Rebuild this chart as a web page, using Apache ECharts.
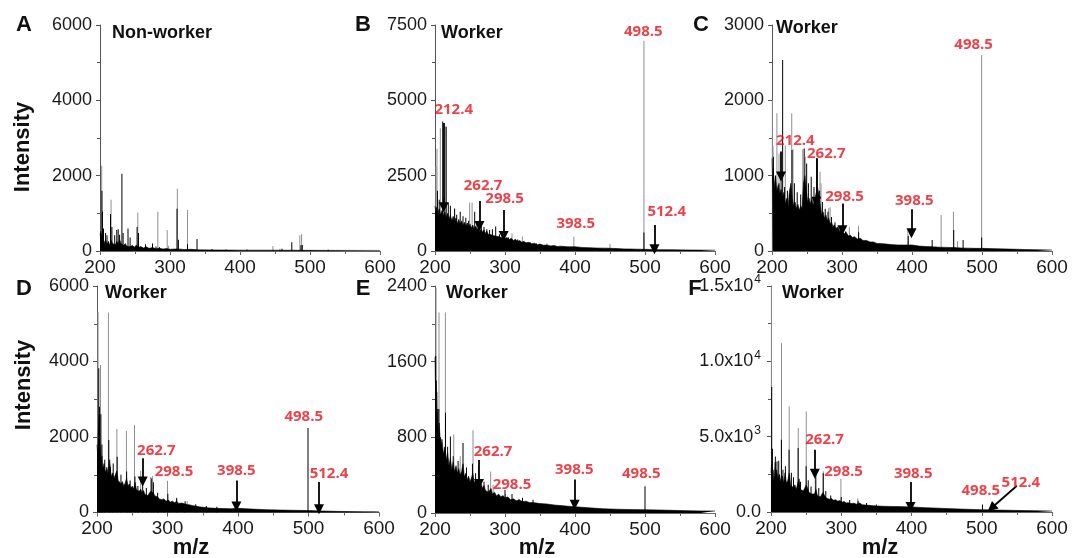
<!DOCTYPE html>
<html><head><meta charset="utf-8">
<script src="https://cdn.jsdelivr.net/npm/echarts@6/dist/echarts.min.js"></script>
<style>html,body{margin:0;padding:0;background:#fff}#c{width:1072px;height:558px}</style>
</head><body><div id="c"></div>
<script>
// ---------- DATA ----------
const xTickLabels = [200, 300, 400, 500, 600];
const panelLetters = ['A', 'B', 'C', 'D', 'E', 'F'];
const panelTitles = ['Non-worker', 'Worker', 'Worker', 'Worker', 'Worker', 'Worker'];
const yMaxes = [6000, 7500, 3000, 6000, 2400, 15000];
const ySteps = [2000, 2500, 1000, 2000, 800, 5000];

// Panel A
const envA = [[200,420],[201,520],[202,380],[203,460],[204,300],[206,220],[208,300],[210,180],[212,260],[214,150],[216,280],[218,200],[220,240],[222,160],[224,260],[226,180],[228,300],[230,200],[232,240],[234,140],[236,200],[238,130],[240,180],[243,110],[246,150],[249,100],[252,160],[255,90],[258,120],[262,80],[266,110],[270,70],[275,90],[280,60],[285,75],[290,50],[295,65],[300,45],[310,55],[320,40],[330,45],[340,30],[360,28],[380,25],[400,22],[430,22],[460,20],[500,18],[540,16],[600,15]];
const blackA = [[202.8,1600],[203.5,1050],[205,600],[208,480],[210,420],[215,980],[217,640],[221,420],[224,560],[226,580],[228,430],[231.3,2050],[233,480],[240,600],[243,360],[253,640],[255,480],[265,180],[275,200],[280,120],[285,100],[310,1120],[312,300],[325,180],[338.6,320],[360,50],[380,40],[410,40],[460,60],[474,230],[487,150],[489,160],[526,30]];
const grayA = [[202.4,2260],[215.8,1360],[254,1020],[282.6,1040],[296,560],[298,140],[310.5,1650],[325,1090],[447,130],[457,60],[485.5,420],[488,450]];
const arrowsA = [];
const labelsA = [];

// Panel B
const envB = [[200,1500],[201,1300],[202,1450],[204,1250],[206,1400],[208,1200],[210,1350],[212,1150],[214,1300],[216,1100],[218,1250],[220,1050],[222,1200],[224,1000],[226,1150],[228,950],[230,1100],[232,900],[234,1050],[236,880],[238,1000],[240,850],[242,950],[244,820],[246,930],[248,800],[250,900],[252,760],[254,860],[256,720],[258,820],[260,700],[262,780],[264,650],[266,740],[268,620],[270,700],[272,580],[274,660],[276,560],[278,620],[280,540],[282,600],[284,510],[286,570],[288,490],[290,540],[292,470],[294,510],[296,440],[298,480],[300,420],[303,450],[306,380],[309,420],[312,350],[315,390],[318,320],[321,350],[324,290],[327,320],[330,270],[334,290],[338,240],[342,260],[346,210],[350,230],[355,190],[360,200],[365,170],[370,180],[375,150],[380,160],[390,140],[400,140],[410,120],[420,110],[430,100],[440,95],[450,90],[460,80],[470,70],[480,65],[490,60],[500,55],[510,50],[520,45],[540,40],[560,35],[580,30],[600,28]];
const blackB = [[203.5,2000],[206,1700],[211,4300],[213,1800],[216,4120],[219,1600],[222,1500],[228,1400],[231,1200],[236,1300],[240,1150],[244,1100],[248,1000],[256.7,1300],[260,900],[266,850],[270,800],[274,720],[278,700],[282,720],[286.7,810],[292,560],[305,450],[318,380],[336,280],[345,250],[498.5,610],[513,90]];
const grayB = [[201.4,2800],[202.8,3390],[207.6,4070],[214.5,4150],[228,1415],[249.5,1600],[253,1600],[262,1000],[310,590],[324.8,480],[360,250],[398.4,475],[450,232],[498.5,6980]];
const arrowsB = [[212.4,4250,212.4,1450],[263.5,1660,263.5,830],[298,1360,298,500],[513.5,860,513.5,60]];
const labelsB = [['212.4',226.7,4700],['262.7',268.6,2160],['298.5',299.5,1720],['398.5',401,890],['498.5',497.6,7280],['512.4',531,1290]];

// Panel C
const envC = [[200,1230],[201,900],[202,1100],[203,850],[205,1000],[207,800],[209,880],[211,760],[213,820],[215,700],[217,780],[219,620],[221,700],[223,600],[225,800],[227,900],[229,700],[231,600],[233,650],[235,560],[237,620],[239,540],[241,600],[243,560],[245,900],[247,1000],[249,800],[251,650],[253,700],[255,620],[257,700],[259,600],[261,680],[263,700],[265,850],[267,750],[269,600],[271,480],[273,520],[275,430],[277,480],[279,400],[281,440],[283,360],[285,390],[287,320],[289,350],[291,300],[294,320],[297,260],[300,280],[303,230],[306,250],[309,200],[312,210],[315,180],[318,190],[322,160],[326,170],[330,140],[335,140],[340,120],[345,120],[350,100],[360,95],[370,85],[380,80],[390,80],[400,80],[410,65],[420,60],[430,55],[440,50],[450,48],[460,45],[470,40],[480,38],[490,35],[500,35],[520,30],[540,25],[560,20],[580,16],[600,13]];
const blackC = [[202,1250],[205,1000],[210,900],[213,1000],[215.2,2535],[218,850],[222,800],[228.6,1340],[232,900],[236,780],[241,750],[246,1360],[249.5,1160],[252,900],[256,985],[260,850],[264,1230],[268,800],[272,650],[276,560],[280,520],[285,450],[290,380],[299,300],[305,260],[323.8,250],[394.6,200],[428.8,146],[459.6,280],[473,146],[499.5,180]];
const grayC = [[200.5,2005],[201.5,1390],[207,1830],[210,1290],[219,1400],[228.2,1830],[230,1350],[244,1350],[247.5,1250],[268.6,1053],[270,900],[281,566],[283,580],[310.5,320],[323.5,336],[394.2,280],[441.6,478],[459.2,522],[465,130],[499.5,2602]];
const arrowsC = [[212.9,1320,212.9,990],[263.3,1230,263.3,655],[300.5,630,300.5,277],[399.3,553,399.3,235]];
const labelsC = [['212.4',233.3,1460],['262.7',277.6,1296],['298.5',303.7,721],['398.5',403.3,663],['498.5',488,2743]];

// Panel D
const envD = [[200,1800],[201,1500],[202,2200],[203,2600],[204,1800],[205,1600],[206,1300],[207,1500],[208,1150],[210,1300],[212,1050],[214,1200],[216,1000],[218,1400],[220,950],[222,1050],[224,900],[226,1000],[228,1100],[230,850],[232,900],[234,760],[236,820],[238,700],[240,780],[242,900],[244,700],[246,760],[248,640],[250,700],[252,620],[254,800],[256,600],[258,650],[260,560],[262,620],[264,520],[266,580],[268,480],[270,520],[272,450],[274,500],[276,560],[278,600],[280,520],[282,440],[284,400],[286,420],[288,360],[290,390],[292,340],[295,360],[298,300],[301,330],[304,280],[307,300],[310,260],[313,300],[316,240],[320,250],[324,230],[328,210],[332,200],[336,180],[340,170],[345,150],[350,140],[360,120],[370,110],[380,105],[390,100],[400,110],[420,90],[440,75],[460,65],[480,58],[500,52],[520,40],[540,30],[560,24],[580,20],[600,18]];
const blackD = [[202.5,3820],[203.5,2800],[205.5,2600],[207,1800],[211,1400],[216.7,1920],[219,1200],[223,1300],[228.6,1480],[234,1000],[242,1085],[247,850],[253.8,955],[258,700],[264.8,820],[270,650],[277.6,900],[280,800],[286,520],[300.5,500],[313,380],[325,300],[340,220],[355,170],[370,150],[499.3,2240],[514,100]];
const grayD = [[201.5,5320],[205,3910],[216.2,5300],[228.2,2210],[241.7,2160],[253.2,2320],[262,1100],[276,940],[278.5,970],[300,840],[313,400],[328,300]];
const arrowsD = [[264.8,1440,264.8,820],[397.7,850,397.7,160],[514.9,805,514.9,88]];
const labelsD = [['262.7',284.2,1640],['298.5',309.2,1090],['398.5',397.7,1106],['498.5',493.2,2550],['512.4',529,1030]];

// Panel E
const envE = [[200,1650],[201,1200],[202,1400],[203,900],[204,1100],[205,800],[206,950],[208,700],[210,780],[212,620],[214,700],[216,560],[218,640],[220,500],[222,580],[224,460],[226,540],[228,440],[230,500],[232,420],[234,470],[236,400],[238,440],[240,520],[242,380],[244,420],[246,350],[248,390],[250,330],[252,370],[254,420],[256,320],[258,350],[260,300],[262,330],[264,280],[266,310],[268,260],[270,290],[272,240],[274,260],[276,220],[278,240],[280,260],[282,200],[285,220],[288,180],[291,200],[294,170],[297,185],[300,160],[304,170],[308,140],[312,150],[316,130],[320,140],[325,120],[330,125],[335,110],[340,110],[350,100],[360,95],[370,85],[380,78],[390,72],[400,66],[420,55],[440,45],[460,40],[480,36],[500,35],[520,32],[540,28],[560,25],[580,22],[600,21]];
const blackE = [[201,1660],[202.5,1100],[205.5,1100],[208,800],[215,1060],[218,700],[222,810],[226,600],[233,550],[240,740],[245,480],[253.5,520],[258,420],[263,350],[270,330],[276,300],[300,244],[310,200],[325,160],[340,140],[500,283]];
const grayE = [[201.5,2380],[203,1280],[205.7,2120],[214.8,2120],[226.8,830],[236,600],[254.3,874],[262,500],[279.5,438],[283,300],[300.5,200],[320,150]];
const arrowsE = [[262.9,560,262.9,307],[399.5,354,399.5,88]];
const labelsE = [['262.7',282.9,651],['298.5',310,301],['398.5',399,460],['498.5',494.7,410]];

// Panel F
const envF = [[200,2600],[201,3200],[202,2300],[203,2800],[204,2100],[205,2600],[206,3300],[207,2400],[208,2800],[210,2200],[212,2500],[214,2000],[216,2400],[218,1900],[220,2600],[222,1900],[224,2100],[226,2600],[228,1800],[230,1900],[232,1600],[234,1800],[236,1500],[238,1900],[240,2200],[242,1500],[244,1600],[246,1400],[248,1500],[250,1800],[252,1600],[254,1300],[256,1400],[258,1200],[260,1300],[262,1200],[264,1500],[266,1100],[268,1150],[270,1000],[272,1100],[274,1300],[276,1200],[278,950],[280,1000],[283,850],[286,900],[289,780],[292,820],[295,720],[298,760],[301,650],[304,700],[307,600],[310,620],[314,560],[318,580],[322,520],[326,600],[330,480],[335,460],[340,440],[345,420],[350,400],[360,380],[370,370],[380,360],[390,350],[400,330],[420,290],[440,250],[460,210],[480,180],[500,155],[520,130],[540,115],[560,95],[580,80],[600,66]];
const blackF = [[201,8300],[202,4200],[206.2,3690],[208.5,3360],[211,3400],[214.8,4790],[217,2800],[220.5,3030],[225.7,4130],[229,2600],[232,2300],[238.6,4250],[242,2000],[250,3030],[253,2100],[257,1700],[263.8,2700],[268,1600],[274.3,2580],[278,1400],[285,1100],[300,1000],[312,800],[324,750],[336,600],[350,500],[501,490]];
const grayF = [[200.5,14960],[214.9,11200],[225.9,7000],[238.8,5570],[250.2,6670],[263,2900],[274.5,2700],[299.5,2210],[323.5,900]];
const arrowsF = [[262.4,4130,262.4,2540],[398.6,1990,398.6,330],[550,1740,513.9,265]];
const labelsF = [['262.7',276.2,4794],['298.5',303.3,2695],['398.5',402.4,2518],['498.5',498.6,1414],['512.4',555.7,1922]];

// ---------- LAYOUT ----------
const grids = [
  {left:100, top:25, width:280, height:226},
  {left:435, top:25, width:280, height:226},
  {left:772, top:25, width:280, height:226},
  {left:97, top:286, width:282, height:226.5},
  {left:435, top:286, width:280, height:227},
  {left:771, top:286, width:281, height:226}
];
const panels = [
  [envA, blackA, grayA, arrowsA, labelsA],
  [envB, blackB, grayB, arrowsB, labelsB],
  [envC, blackC, grayC, arrowsC, labelsC],
  [envD, blackD, grayD, arrowsD, labelsD],
  [envE, blackE, grayE, arrowsE, labelsE],
  [envF, blackF, grayF, arrowsF, labelsF]
];
const letterPos = [[24,25],[363,25],[701,25],[24,289],[363,289],[695,289]];
const titlePos = [[112,33],[441,33],[776,28],[105,293],[446,293],[782,293]];

const AX = '#666';
const FONT = 'Liberation Sans, Arial, sans-serif';

function plainLabel(v) { return String(v); }
function sciLabel(v) {
  if (v === 0) return '0.0';
  const e = Math.floor(Math.log10(v) + 1e-9);
  const m = (v / Math.pow(10, e)).toFixed(1);
  return m + 'x10{sup|' + e + '}';
}

const xAxes = [], yAxes = [], series = [];
grids.forEach((g, i) => {
  xAxes.push({
    type: 'value', gridIndex: i, min: xTickLabels[0], max: xTickLabels[xTickLabels.length - 1], interval: 100,
    axisLine: {show: true, onZero: false, lineStyle: {color: AX, width: 1}},
    axisTick: {show: true, length: 4, lineStyle: {color: AX}},
    minorTick: {show: true, splitNumber: 2, length: 3, lineStyle: {color: AX}},
    splitLine: {show: false}, minorSplitLine: {show: false},
    axisLabel: {fontSize: 19, color: '#1a1a1a', margin: 7, fontFamily: FONT, showMinLabel: true, showMaxLabel: true, formatter: plainLabel}
  });
  const yl = {fontSize: 18, color: '#1a1a1a', margin: 8, fontFamily: FONT, showMinLabel: true, showMaxLabel: true, formatter: plainLabel};
  if (i === 5) {
    yl.formatter = sciLabel;
    yl.margin = 10;
    yl.lineHeight = 24;
    yl.rich = {sup: {fontSize: 12, verticalAlign: 'top', lineHeight: 12, fontFamily: FONT, color: '#1a1a1a', padding: [0, 0, 0, 1]}};
  }
  yAxes.push({
    type: 'value', gridIndex: i, min: 0, max: yMaxes[i], interval: ySteps[i],
    axisLine: {show: true, lineStyle: {color: '#555', width: 1}},
    axisTick: {show: true, length: 4, lineStyle: {color: '#555'}},
    minorTick: {show: true, splitNumber: 2, length: 3, lineStyle: {color: '#555'}},
    splitLine: {show: false}, minorSplitLine: {show: false},
    axisLabel: yl
  });
  const [env, blk, gry, arr, lab] = panels[i];
  series.push({type: 'bar', xAxisIndex: i, yAxisIndex: i, data: gry, barWidth: 1, barGap: '-100%',
    itemStyle: {color: '#8f8f8f'}, z: 1, silent: true, animation: false});
  series.push({type: 'line', xAxisIndex: i, yAxisIndex: i, data: env, symbol: 'none', showSymbol: false,
    lineStyle: {color: '#000', width: 0.6}, areaStyle: {color: '#000', opacity: 1}, z: 2, silent: true, animation: false});
  series.push({type: 'bar', xAxisIndex: i, yAxisIndex: i, data: blk, barWidth: 1, barGap: '-100%',
    itemStyle: {color: '#000'}, z: 3, silent: true, animation: false});
  series.push({type: 'scatter', xAxisIndex: i, yAxisIndex: i, z: 5, silent: true, animation: false,
    symbolSize: 0,
    data: lab.map(l => ({name: l[0], value: [l[1], l[2]]})),
    label: {show: true, position: 'inside', formatter: '{b}', color: '#e8111b', fontWeight: 'bold',
      fontSize: 15, fontFamily: 'Open Sans, sans-serif'},
    markLine: {
      silent: true, animation: false, symbol: ['none', 'triangle'], symbolSize: 10,
      lineStyle: {color: '#000', width: 1.8, type: 'solid'}, label: {show: false},
      emphasis: {disabled: true},
      data: arr.map(a => [{coord: [a[0], a[1]]}, {coord: [a[2], a[3]]}])
    }
  });
});

const graphic = [];
letterPos.forEach((p, i) => graphic.push({type: 'text', x: p[0], y: p[1], silent: true,
  style: {text: panelLetters[i], fontSize: 22, fontWeight: 'bold', fontFamily: FONT, fill: '#111', align: 'center', verticalAlign: 'middle'}}));
titlePos.forEach((p, i) => graphic.push({type: 'text', x: p[0], y: p[1], silent: true,
  style: {text: panelTitles[i], fontSize: 18, fontWeight: 'bold', fontFamily: FONT, fill: '#111', align: 'left', verticalAlign: 'middle'}}));
[[23,147],[24,385]].forEach(p => graphic.push({type: 'text', x: p[0], y: p[1], rotation: Math.PI / 2, silent: true,
  style: {text: 'Intensity', fontSize: 22, fontWeight: 'bold', fontFamily: FONT, fill: '#111', align: 'center', verticalAlign: 'middle'}}));
[[191,548],[537,548],[880,548]].forEach(p => graphic.push({type: 'text', x: p[0], y: p[1], silent: true,
  style: {text: 'm/z', fontSize: 22, fontWeight: 'bold', fontFamily: FONT, fill: '#111', align: 'center', verticalAlign: 'middle'}}));

const chart = echarts.init(document.getElementById('c'), null, {renderer: 'canvas'});
chart.setOption({
  animation: false,
  backgroundColor: '#fff',
  grid: grids.map(g => Object.assign({containLabel: false, outerBoundsMode: 'none'}, g)),
  xAxis: xAxes,
  yAxis: yAxes,
  series: series,
  graphic: graphic
});
</script></body></html>
